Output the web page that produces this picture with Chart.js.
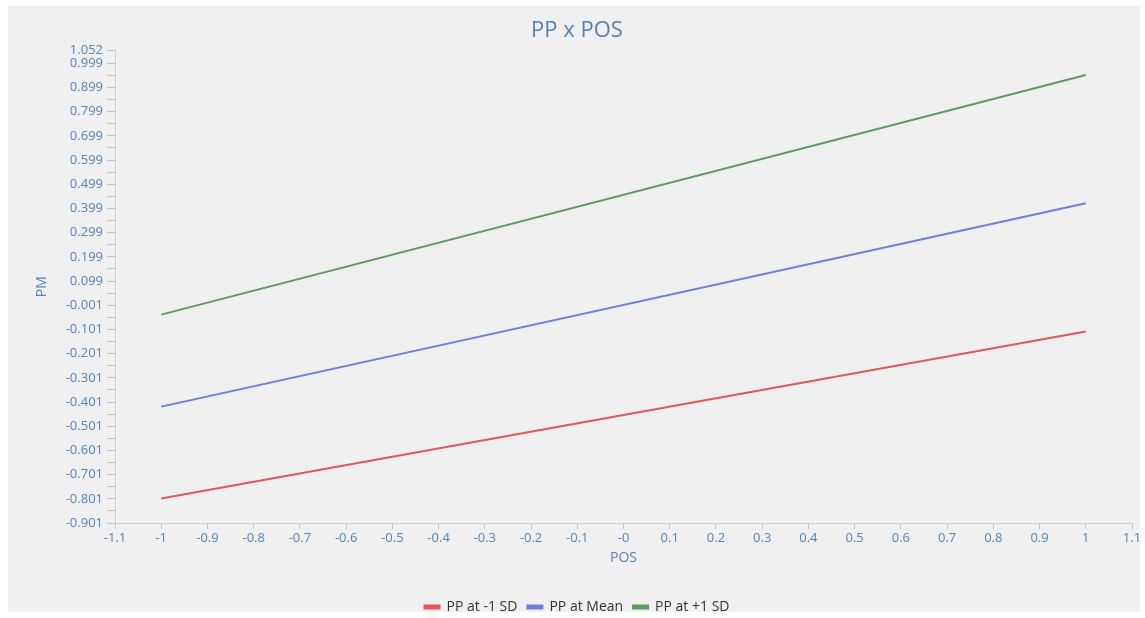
<!DOCTYPE html>
<html>
<head>
<meta charset="utf-8">
<script src="https://cdn.jsdelivr.net/npm/chart.js@4"></script>
<style>
    body { margin: 0; background: #fff; overflow: hidden; }
    #fondo { position: absolute; left: 8px; top: 6px; width: 1132px; height: 606px; background: #f0f0f0; }
    #caja { position: absolute; left: 22px; top: 6px; width: 1123px; height: 618px; }
</style>
</head>
<body>
<div id="fondo"></div>
<div id="caja"><canvas id="grafico"></canvas></div>
<script>
// datos
let posValores = [-1, 1];
let ppMenos = [-0.80, -0.11];
let ppMedia = [-0.42, 0.42];
let ppMas = [-0.04, 0.95];

let xEtiquetas = ['-1.1', '-1', '-0.9', '-0.8', '-0.7', '-0.6', '-0.5', '-0.4', '-0.3', '-0.2', '-0.1',
    '-0', '0.1', '0.2', '0.3', '0.4', '0.5', '0.6', '0.7', '0.8', '0.9', '1', '1.1'];
let yEtiquetas = ['-0.901', '-0.801', '-0.701', '-0.601', '-0.501', '-0.401', '-0.301', '-0.201', '-0.101',
    '-0.001', '0.099', '0.199', '0.299', '0.399', '0.499', '0.599', '0.699', '0.799', '0.899', '0.999', '1.052'];

const azul = '#5283b6';
const fuente = "'Open Sans', sans-serif";

function puntos(ys) {
    return posValores.map((x, i) => ({ x: x, y: ys[i] }));
}

// ticks del eje Y: los de etiqueta y uno en medio de cada paso
let yTicks = [];
yEtiquetas.forEach((t, i) => {
    let v = parseFloat(t);
    yTicks.push({ value: v, etiqueta: t });
    let sig = yEtiquetas[i + 1];
    if (sig && parseFloat(sig) - v > 0.09) {
        yTicks.push({ value: v + 0.05, etiqueta: '' });
    }
});

let ctx = document.getElementById('grafico');
let myChart = new Chart(ctx, {
    type: 'line',
    data: {
        datasets: [{
            label: 'PP at -1 SD',
            data: puntos(ppMenos),
            borderColor: '#e0585a',
            backgroundColor: '#e0585a'
        }, {
            label: 'PP at Mean',
            data: puntos(ppMedia),
            borderColor: '#6b7fe0',
            backgroundColor: '#6b7fe0'
        }, {
            label: 'PP at +1 SD',
            data: puntos(ppMas),
            borderColor: '#5e9a5e',
            backgroundColor: '#5e9a5e'
        }]
    },
    options: {
        responsive: true,
        maintainAspectRatio: false,
        animation: false,
        elements: {
            point: { radius: 0, hoverRadius: 0 },
            line: { borderWidth: 2, tension: 0 }
        },
        layout: { padding: { right: 13 } },
        plugins: {
            title: {
                display: true,
                text: 'PP x POS',
                color: azul,
                font: { family: fuente, size: 22, weight: 'normal' },
                padding: { top: 12, bottom: 6 }
            },
            legend: {
                position: 'bottom',
                labels: {
                    color: '#333',
                    font: { family: fuente, size: 14 },
                    boxWidth: 15,
                    boxHeight: 3,
                    padding: 10
                }
            },
            tooltip: { enabled: false }
        },
        scales: {
            x: {
                type: 'linear',
                min: -1.1,
                max: 1.1,
                afterBuildTicks: function (scale) {
                    scale.ticks = xEtiquetas.map(t => ({ value: parseFloat(t) }));
                },
                afterFit: function (scale) {
                    scale.height = 67;
                },
                ticks: {
                    autoSkip: false,
                    maxRotation: 0,
                    color: azul,
                    padding: 1,
                    font: { family: fuente, size: 13 },
                    callback: function (value, index) {
                        return xEtiquetas[index];
                    }
                },
                grid: {
                    drawOnChartArea: false,
                    tickLength: 6,
                    tickColor: '#c4c4c4'
                },
                border: { color: '#cfcfcf' },
                title: {
                    display: true,
                    text: 'POS',
                    color: azul,
                    font: { family: fuente, size: 14 },
                    padding: { top: 0, bottom: 24 }
                }
            },
            y: {
                type: 'linear',
                min: -0.901,
                max: 1.052,
                afterBuildTicks: function (scale) {
                    scale.ticks = yTicks.map(t => ({ value: t.value }));
                },
                afterFit: function (scale) {
                    scale.width = 93;
                },
                ticks: {
                    autoSkip: false,
                    color: azul,
                    padding: 4,
                    font: { family: fuente, size: 13 },
                    callback: function (value, index) {
                        return yTicks[index].etiqueta;
                    }
                },
                grid: {
                    drawOnChartArea: false,
                    tickLength: 8,
                    tickColor: '#c4c4c4'
                },
                border: { color: '#cfcfcf' },
                title: {
                    display: true,
                    text: 'PM',
                    color: azul,
                    font: { family: fuente, size: 14 },
                    padding: { top: 12, bottom: 0 }
                }
            }
        }
    }
});
</script>
</body>
</html>
